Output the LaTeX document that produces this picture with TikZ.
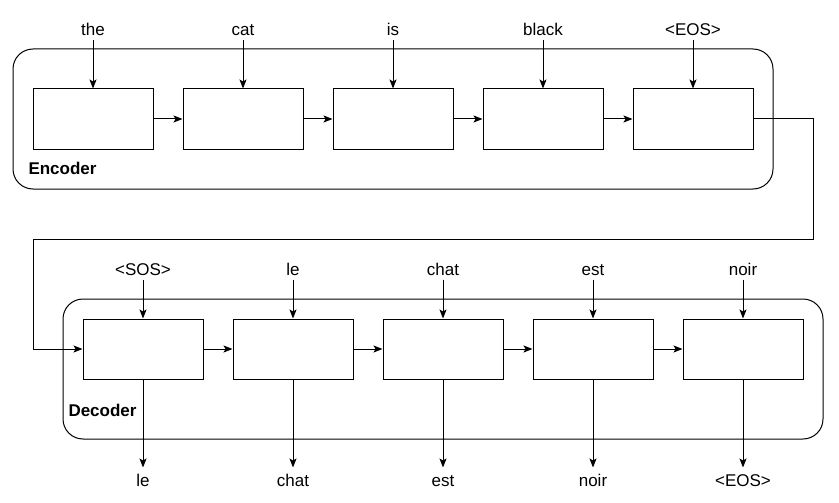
\documentclass[tikz,border=0pt]{standalone}
\usepackage{fontspec}
\setmainfont{Liberation Sans}
\usetikzlibrary{arrows.meta}

\begin{document}
\begin{tikzpicture}[x=1pt,y=-1pt,line width=1pt,
    >={Stealth[length=9pt,width=7pt,inset=2pt]},
    cell/.style={draw,minimum width=120pt,minimum height=60pt,inner sep=0pt},
    word/.style={font=\fontsize{17}{20}\selectfont,inner sep=0pt,text height=13pt,text depth=4pt,anchor=base},
    frame/.style={draw,rounded corners=20pt,minimum width=760pt,minimum height=140pt,inner sep=0pt},
    title/.style={font=\fontsize{17}{20}\selectfont\bfseries,inner sep=0pt,anchor=base west}]
      \useasboundingbox (0,0) rectangle (839,503);
      \node[frame] (enc) at (393,119) {};
      \node[frame] (dec) at (443,369) {};
      \node[title] (enclabel) at (28,175) {Encoder};
      \node[title] (declabel) at (68,416) {Decoder};
      % encoder
      \foreach \w [count=\i] in {the,cat,is,black,<EOS>} {
        \node[cell] (e\i) at ({93+150*(\i-1)},119) {};
        \node[word] (ein\i) at ({93+150*(\i-1)},36) {\w};
        \draw[->] (ein\i) -- (e\i);
      }
      % decoder
      \foreach \w/\v [count=\i] in {<SOS>/le,le/chat,chat/est,est/noir,noir/<EOS>} {
        \node[cell] (d\i) at ({143+150*(\i-1)},349) {};
        \node[word] (din\i) at ({143+150*(\i-1)},275) {\w};
        \node[word] (dout\i) at ({143+150*(\i-1)},486) {\v};
        \draw[->] (din\i) -- (d\i);
        \draw[->,shorten >=5pt] (d\i) -- (dout\i);
      }
      \foreach \i/\j in {1/2,2/3,3/4,4/5} {
        \draw[->] (e\i) -- (e\j);
        \draw[->] (d\i) -- (d\j);
      }
      \coordinate (turn) at (813,239);
      \draw[->] (e5.east) -| (turn) -| (33,349) -- (d1.west);
\end{tikzpicture}
\end{document}
